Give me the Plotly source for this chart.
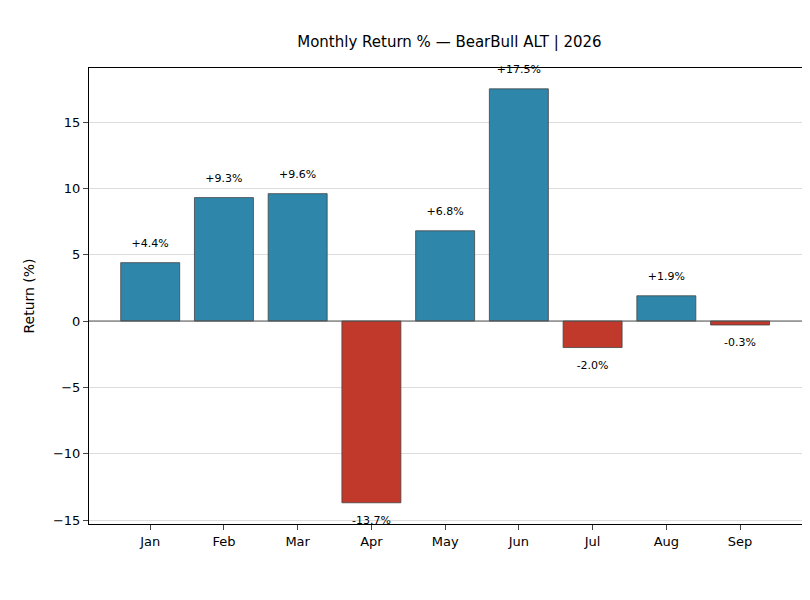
import plotly.graph_objects as go

months = ['Jan', 'Feb', 'Mar', 'Apr', 'May', 'Jun', 'Jul', 'Aug', 'Sep']
returns = [4.4, 9.3, 9.6, -13.7, 6.8, 17.5, -2.0, 1.9, -0.3]
yticks = [-15, -10, -5, 0, 5, 10, 15]

colors = ['#2E86AB' if r >= 0 else '#C0392B' for r in returns]
labels = [('+%.1f%%' % r) if r >= 0 else ('%.1f%%' % r) for r in returns]
xs = list(range(len(months)))
label_y = [r + 1.4 if r >= 0 else r - 1.4 for r in returns]

fig = go.Figure()
fig.add_trace(go.Bar(
    x=xs, y=returns, width=0.8,
    marker=dict(color=colors, line=dict(color='#444444', width=0.8)),
    showlegend=False
))
fig.add_trace(go.Scatter(
    x=xs, y=label_y, mode='text', text=labels,
    textfont=dict(size=11, color='black'), showlegend=False, cliponaxis=False
))
fig.add_hline(y=0, line=dict(color='#555555', width=1))

fig.update_layout(
    width=810, height=600,
    margin=dict(l=81, r=16, t=60, b=84),
    title=dict(text='Monthly Return % — BearBull ALT | 2026', x=0.545, xanchor='center',
               y=0.935, yanchor='bottom', font=dict(size=15, color='black')),
    font=dict(family='DejaVu Sans', color='black'),
    plot_bgcolor='white', paper_bgcolor='white',
    xaxis=dict(range=[-0.83, 8.84], tickvals=xs, ticktext=months, showgrid=False,
               showline=True, mirror=True, linecolor='black', ticks='outside',
               tickfont=dict(size=13), zeroline=False),
    yaxis=dict(range=[-15.3, 19.07], tickvals=yticks, ticktext=['−15', '−10', '−5', '0', '5', '10', '15'],
               showgrid=True, gridcolor='#dddddd', showline=True, mirror=True,
               linecolor='black', ticks='outside', tickfont=dict(size=13), zeroline=False,
               title=dict(text='Return (%)', font=dict(size=14))),
)

fig.write_html("out.html")
